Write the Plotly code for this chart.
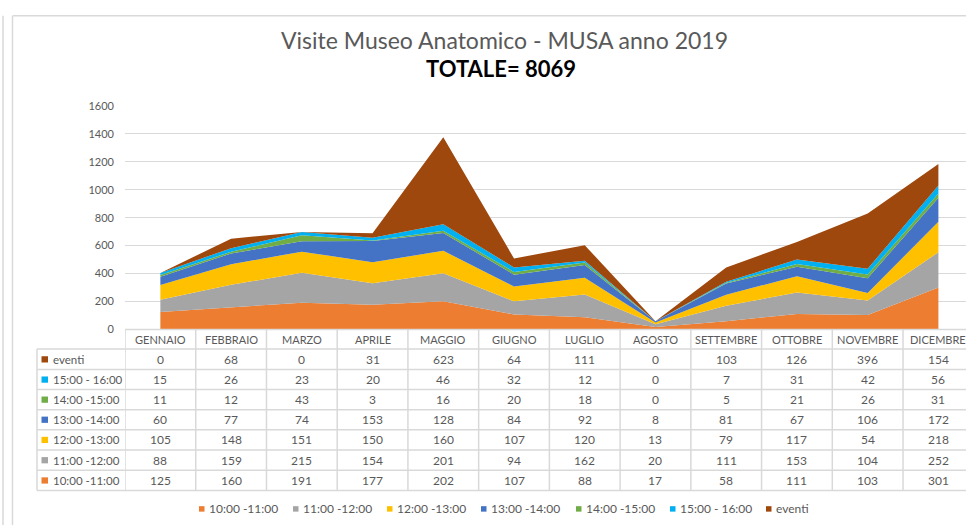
import plotly.graph_objects as go

months = ["GENNAIO", "FEBBRAIO", "MARZO", "APRILE", "MAGGIO", "GIUGNO", "LUGLIO",
          "AGOSTO", "SETTEMBRE", "OTTOBRE", "NOVEMBRE", "DICEMBRE"]
s10 = [125, 160, 191, 177, 202, 107, 88, 17, 58, 111, 103, 301]
s11 = [88, 159, 215, 154, 201, 94, 162, 20, 111, 153, 104, 252]
s12 = [105, 148, 151, 150, 160, 107, 120, 13, 79, 117, 54, 218]
s13 = [60, 77, 74, 153, 128, 84, 92, 8, 81, 67, 106, 172]
s14 = [11, 12, 43, 3, 16, 20, 18, 0, 5, 21, 26, 31]
s15 = [15, 26, 23, 20, 46, 32, 12, 0, 7, 31, 42, 56]
eventi = [0, 68, 0, 31, 623, 64, 111, 0, 103, 126, 396, 154]

series_names = ["10:00 -11:00", "11:00 -12:00", "12:00 -13:00", "13:00 -14:00",
                "14:00 -15:00", "15:00 - 16:00", "eventi"]
series_vals = [s10, s11, s12, s13, s14, s15, eventi]
colors = ["#ED7D31", "#A5A5A5", "#FFC000", "#4472C4", "#70AD47", "#00B0F0", "#9E480E"]
total = sum(sum(v) for v in series_vals)

W, H = 966, 531
def py(p):
    return 1 - p / H
def px(p):
    return p / W

FONT = "Lato"
TXT = "#595959"
GRID = "#D9D9D9"

fig = go.Figure()
xs = list(range(len(months)))
for name, vals, col in zip(series_names, series_vals, colors):
    fig.add_trace(go.Scatter(x=xs, y=vals, name=name, stackgroup="one",
                             mode="lines", line=dict(width=0, color=col),
                             fillcolor=col, showlegend=False, hoverinfo="skip"))

plot_left, plot_right = 125, 966
col_w = 70.73
x_end = -0.5 + (plot_right - plot_left) / col_w
y_top, y_zero = 101.5, 330.5

fig.update_layout(
    width=W, height=H, margin=dict(l=0, r=0, t=0, b=0),
    paper_bgcolor="white", plot_bgcolor="white", showlegend=False,
    xaxis=dict(domain=[px(plot_left), px(plot_right)], range=[-0.5, x_end],
               showticklabels=False, showgrid=False, zeroline=False, fixedrange=True),
    yaxis=dict(domain=[py(y_zero), py(y_top)], range=[0, 1600], dtick=200,
               showgrid=True, gridcolor=GRID, gridwidth=1, zeroline=False,
               tickfont=dict(family=FONT, size=11, color=TXT), ticks="",
               ticklabelstandoff=10, fixedrange=True),
    font=dict(family=FONT),
)

shapes = []
annots = []
# Outer frame lines
shapes.append(dict(type="line", xref="paper", yref="paper", x0=px(3), x1=px(3),
                   y0=py(9), y1=0, line=dict(color=GRID, width=1.5)))
shapes.append(dict(type="line", xref="paper", yref="paper", x0=px(12.5), x1=px(12.5),
                   y0=py(9), y1=0, line=dict(color=GRID, width=1.5)))
shapes.append(dict(type="line", xref="paper", yref="paper", x0=px(12.5), x1=1,
                   y0=py(9), y1=py(9), line=dict(color=GRID, width=1.5)))

# Titles
annots.append(dict(xref="paper", yref="paper", x=px(504), y=py(34), text="Visite Museo Anatomico - MUSA anno 2019",
                   showarrow=False, font=dict(family=FONT, size=23, color=TXT), xanchor="center", yanchor="middle"))
annots.append(dict(xref="paper", yref="paper", x=px(501), y=py(63), text="<b>TOTALE= %d</b>" % total,
                   showarrow=False, font=dict(family=FONT, size=22, color="#000000"), xanchor="center", yanchor="middle"))

# Data table
header_top = 330.5
row_lines = [350.7, 371.7, 392.2, 412.8, 433.4, 454.2, 475.0, 495.7]
table_left = 37
shapes.append(dict(type="line", xref="paper", yref="paper", x0=px(plot_left), x1=1,
                   y0=py(header_top), y1=py(header_top), line=dict(color=GRID, width=1.5)))
for r in row_lines:
    shapes.append(dict(type="line", xref="paper", yref="paper", x0=px(table_left), x1=1,
                       y0=py(r), y1=py(r), line=dict(color=GRID, width=1.5)))
shapes.append(dict(type="line", xref="paper", yref="paper", x0=px(table_left), x1=px(table_left),
                   y0=py(row_lines[0]), y1=py(row_lines[-1]), line=dict(color=GRID, width=1.5)))
for k in range(len(months) + 1):
    shapes.append(dict(type="line", xref="x", yref="paper", x0=k - 0.5, x1=k - 0.5,
                       y0=py(header_top), y1=py(row_lines[-1]), line=dict(color=GRID, width=1.5)))
for k, m in enumerate(months):
    annots.append(dict(xref="x", yref="paper", x=k, y=py((header_top + row_lines[0]) / 2), text=m,
                       showarrow=False, font=dict(family=FONT, size=11, color=TXT),
                       xanchor="center", yanchor="middle"))
order = list(range(len(series_names)))[::-1]
for ri, si in enumerate(order):
    yc = (row_lines[ri] + row_lines[ri + 1]) / 2
    shapes.append(dict(type="rect", xref="paper", yref="paper", x0=px(41.5), x1=px(48),
                       y0=py(yc - 3.2), y1=py(yc + 3.2), fillcolor=colors[si], line=dict(width=0)))
    annots.append(dict(xref="paper", yref="paper", x=px(50.5), y=py(yc), text=series_names[si],
                       showarrow=False, font=dict(family=FONT, size=11.5, color=TXT),
                       xanchor="left", yanchor="middle"))
    for k, v in enumerate(series_vals[si]):
        annots.append(dict(xref="x", yref="paper", x=k, y=py(yc), text=str(v),
                           showarrow=False, font=dict(family=FONT, size=12, color=TXT),
                           xanchor="center", yanchor="middle"))

# Bottom legend
leg_x = [199, 293, 387, 481, 576, 670, 766]
leg_y = 514.5
for i, name in enumerate(series_names):
    shapes.append(dict(type="rect", xref="paper", yref="paper", x0=px(leg_x[i]), x1=px(leg_x[i] + 5.5),
                       y0=py(leg_y - 2.8), y1=py(leg_y + 2.8), fillcolor=colors[i], line=dict(width=0)))
    annots.append(dict(xref="paper", yref="paper", x=px(leg_x[i] + 8), y=py(leg_y), text=name,
                       showarrow=False, font=dict(family=FONT, size=12, color=TXT),
                       xanchor="left", yanchor="middle"))

fig.update_layout(shapes=shapes, annotations=annots)
fig.write_html("out.html", config={"displayModeBar": False},
               post_script="document.body.style.margin='0';document.body.style.overflow='hidden';")
